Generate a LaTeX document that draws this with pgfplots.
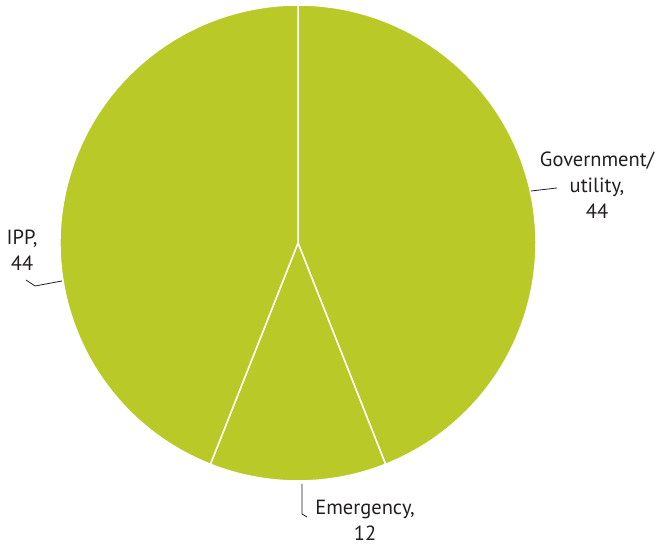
\documentclass[border=0pt]{standalone}
\usepackage{pgfplots}
\pgfplotsset{compat=1.18}
\usepackage{pgfplotstable}
\usepackage{fontspec}
\setmainfont{PT Sans}
\definecolor{slice}{HTML}{B9CA28}
\definecolor{txt}{HTML}{231F20}
\pgfplotstableread{
label value
Government 44
Emergency 12
IPP 44
}\piedata
\begin{document}
\begin{tikzpicture}
\begin{axis}[
  hide axis, scale only axis, width=658bp, height=546bp,
  xmin=0, xmax=658, ymin=0, ymax=546, clip=false,
]
\coordinate (sw) at (axis cs:0,0);
\coordinate (ne) at (axis cs:658,546);
% pie wedges from the data, clockwise from the top
\pgfplotstablegetrowsof{\piedata}
\pgfmathtruncatemacro{\nrows}{\pgfplotsretval-1}
\def\cumangle{90}
\pgfplotsinvokeforeach{0,...,\nrows}{
  \pgfplotstablegetelem{#1}{value}\of{\piedata}
  \pgfmathsetmacro{\span}{\pgfplotsretval*3.6}
  \pgfmathsetmacro{\endangle}{\cumangle-\span}
  \edef\temp{\noexpand\fill[slice, draw=white, line width=1.5bp, line join=round]
    (axis cs:298,303) -- ++(\cumangle:238bp) arc[start angle=\cumangle, end angle=\endangle, radius=238bp] -- cycle;}
  \temp
  \xdef\cumangle{\endangle}
}
% leader lines
\draw[txt, line width=0.8bp] (axis cs:531,355) -- (axis cs:557,358);
\draw[txt, line width=0.8bp] (axis cs:26,266) -- (axis cs:35,260) -- (axis cs:62,265);
\draw[txt, line width=0.8bp] (axis cs:302,62) -- (axis cs:302,32) -- (axis cs:307,29);
% labels
\node[txt, align=center, font=\fontsize{20.5bp}{26bp}\selectfont] at (axis cs:597,361) {Government/\\utility,\\44};
\node[txt, align=center, font=\fontsize{20.5bp}{26bp}\selectfont] at (axis cs:22,296) {IPP,\\44};
\node[txt, align=center, font=\fontsize{20.5bp}{26bp}\selectfont] at (axis cs:365,26) {Emergency,\\12};
\end{axis}
\pgfresetboundingbox
\path (sw) rectangle (ne);
\end{tikzpicture}
\end{document}
